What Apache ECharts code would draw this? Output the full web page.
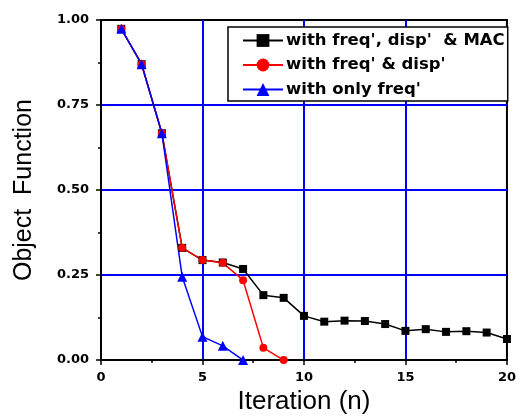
<!DOCTYPE html>
<html>
<head>
<meta charset="utf-8">
<script src="https://cdn.jsdelivr.net/npm/echarts@6/dist/echarts.min.js"></script>
<style>
  html, body { margin: 0; padding: 0; background: #fff; }
  #chart { width: 519px; height: 420px; }
</style>
</head>
<body>
<div id="chart"></div>
<script>
const FONT = "Liberation Sans, Arial, sans-serif";
const WIDE = "DejaVu Sans, Verdana, sans-serif";
const GRID_BLUE = "#0000ff";

const iterMac = [1, 2, 3, 4, 5, 6, 7, 8, 9, 10, 11, 12, 13, 14, 15, 16, 17, 18, 19, 20];
const objMac = [0.974, 0.87, 0.667, 0.33, 0.294, 0.287, 0.268, 0.191, 0.183, 0.13,
                0.113, 0.116, 0.115, 0.106, 0.086, 0.091, 0.083, 0.085, 0.081, 0.062];

const iterDisp = [1, 2, 3, 4, 5, 6, 7, 8, 9];
const objDisp = [0.974, 0.87, 0.667, 0.33, 0.294, 0.286, 0.235, 0.036, 0.0];

const iterFreq = [1, 2, 3, 4, 5, 6, 7];
const objFreq = [0.974, 0.87, 0.667, 0.245, 0.069, 0.042, 0.0];

const seriesNames = ["with freq', disp'  & MAC", "with freq' & disp'", "with only freq'"];

const pairs = (xs, ys) => xs.map((x, i) => [x, ys[i]]);

const chart = echarts.init(document.getElementById("chart"), undefined, { renderer: "canvas" });

chart.setOption({
  animation: false,
  grid: {
    left: 101, top: 20, right: 7, bottom: 59,
    show: true, borderColor: "#000", borderWidth: 2,
  },
  legend: {
    orient: "vertical",
    left: 228, top: 27,
    padding: [5, 3, 3, 14],
    itemWidth: 40, itemHeight: 16, itemGap: 7.5,
    backgroundColor: "#fff",
    borderColor: "#000", borderWidth: 1.5,
    textStyle: { fontFamily: WIDE, fontSize: 16.5, fontWeight: "bold", color: "#000", padding: [0, 0, 0, -2] },
    data: seriesNames,
  },
  xAxis: {
    type: "value",
    min: 0, max: 20, interval: 5,
    name: "Iteration (n)",
    nameLocation: "middle",
    nameGap: 28,
    nameTextStyle: { fontFamily: FONT, fontSize: 26, color: "#000" },
    axisLine: { show: true, lineStyle: { color: "#000", width: 2 } },
    axisTick: { show: true, length: 5, lineStyle: { color: "#000", width: 1.5 } },
    minorTick: { show: true, splitNumber: 2, length: 3, lineStyle: { color: "#000", width: 1.5 } },
    axisLabel: { fontFamily: WIDE, fontSize: 13, fontWeight: "bold", color: "#000", margin: 11 },
    splitLine: { show: true, showMinLine: false, showMaxLine: false, lineStyle: { color: GRID_BLUE, width: 2 } },
  },
  yAxis: {
    type: "value",
    min: 0, max: 1, interval: 0.25,
    name: "Object  Function",
    nameLocation: "middle",
    nameGap: 64,
    nameTextStyle: { fontFamily: FONT, fontSize: 25, color: "#000" },
    axisLine: { show: true, lineStyle: { color: "#000", width: 2 } },
    axisTick: { show: true, length: 5, lineStyle: { color: "#000", width: 1.5 } },
    minorTick: { show: true, splitNumber: 2, length: 3, lineStyle: { color: "#000", width: 1.5 } },
    axisLabel: {
      fontFamily: WIDE, fontSize: 13, fontWeight: "bold", color: "#000", margin: 12,
      formatter: (v) => v.toFixed(2),
    },
    splitLine: { show: true, showMinLine: false, showMaxLine: false, lineStyle: { color: GRID_BLUE, width: 2 } },
  },
  series: [
    {
      name: seriesNames[0],
      type: "line",
      data: pairs(iterMac, objMac),
      symbol: "rect", symbolSize: 8,
      lineStyle: { color: "#000", width: 1.5 },
      itemStyle: { color: "#000" },
    },
    {
      name: seriesNames[1],
      type: "line",
      data: pairs(iterDisp, objDisp),
      symbol: "circle", symbolSize: 8,
      lineStyle: { color: "#ff0000", width: 1.5 },
      itemStyle: { color: "#ff0000" },
    },
    {
      name: seriesNames[2],
      type: "line",
      data: pairs(iterFreq, objFreq),
      symbol: "triangle", symbolSize: 10,
      lineStyle: { color: "#0000ff", width: 1.5 },
      itemStyle: { color: "#0000ff" },
    },
  ],
});
</script>
</body>
</html>
